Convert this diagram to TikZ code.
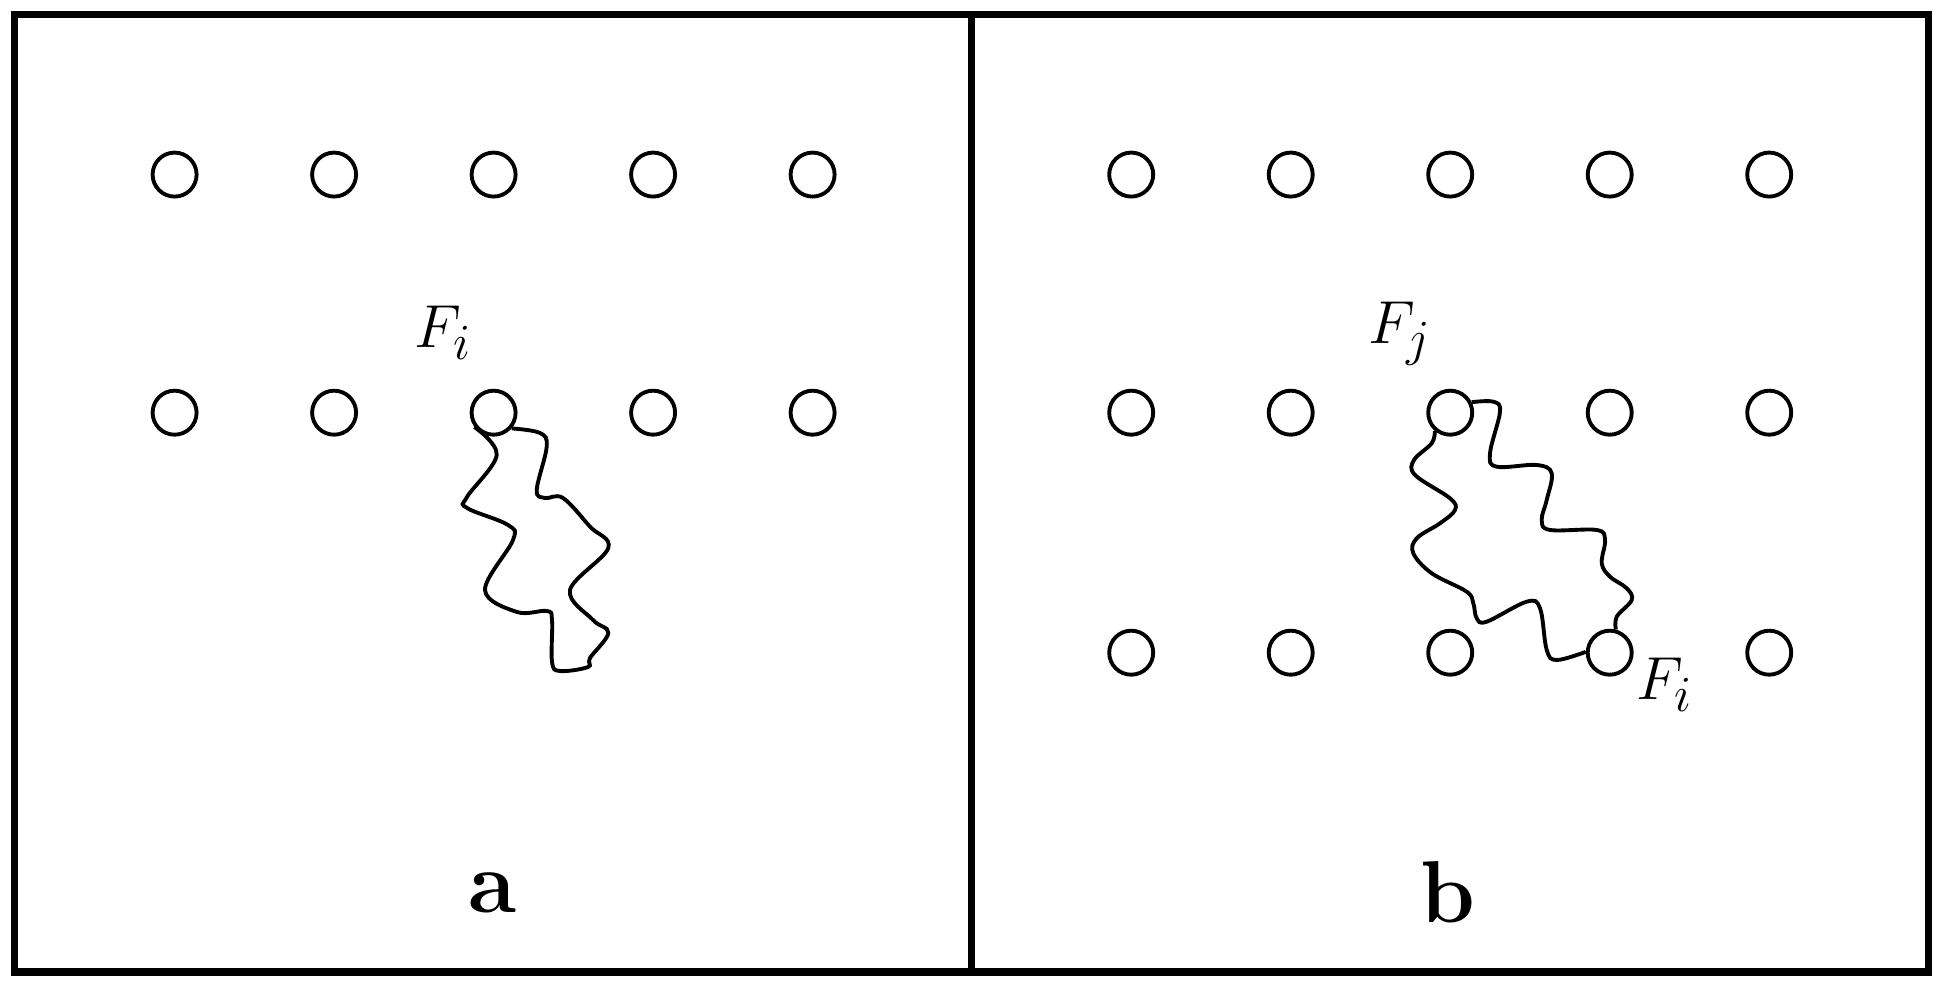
\documentclass[tikz,border=0pt]{standalone}

\begin{document}
\begin{tikzpicture}[
        site/.style = {circle, draw, line width = 1.1pt, minimum size = 0.44cm, inner sep = 0pt},
        lbl/.style = {font = \fontsize{19}{23}\selectfont},
        panel/.style = {font = \fontsize{25}{30}\selectfont\bfseries},
        walk/.style = {line width = 1.1pt}]
            \useasboundingbox (0,0) rectangle (19.41,9.85);
            \begin{scope}[line width = 2.1pt]
                \draw (0.147,0.13) rectangle (19.283,9.703);
                \draw (9.713,0.13) -- (9.713,9.703);
            \end{scope}
            % lattice sites
            \foreach \c in {1,...,5} {
                \pgfmathsetmacro{\x}{1.746 + 1.595*(\c-1)}
                \foreach \r/\y in {1/8.104, 2/5.723}
                    \node[site] (a-\r-\c) at (\x,\y) {};
                \foreach \r/\y in {1/8.104, 2/5.723, 3/3.323}
                    \node[site] (b-\r-\c) at (\x+9.566,\y) {};
            }
            % walk in panel a
            \draw[walk] plot[smooth, tension = 0.6] coordinates{(a-2-3.-41) (5.40,5.52) (5.467,5.383) (5.367,4.95)
                (5.45,4.87) (5.63,4.87) (5.90,4.583) (6.083,4.37) (5.70,3.95) (5.93,3.65) (6.083,3.52)
                (5.90,3.27) (5.88,3.18) (5.60,3.14) (5.52,3.23) (5.52,3.65) (5.467,3.74) (5.17,3.73)
                (4.85,3.95) (5.13,4.45) (5.08,4.60) (4.67,4.77) (4.67,4.88) (4.967,5.30) (a-2-3.-143)};
            % walks in panel b
            \draw[walk] plot[smooth, tension = 0.6] coordinates{(b-2-3.-130) (14.317,5.417) (14.14,5.25) (14.15,5.10)
                (14.50,4.867) (14.55,4.75) (14.40,4.617) (14.167,4.467) (14.133,4.317) (14.317,4.117)
                (14.667,3.933) (14.733,3.817) (14.767,3.667) (14.867,3.633) (15.267,3.833) (15.40,3.767)
                (15.467,3.35) (15.567,3.25) (b-3-4.178)};
            \draw[walk] plot[smooth, tension = 0.6] coordinates{(b-2-3.26) (14.933,5.833) (15.00,5.733) (14.90,5.317)
                (14.967,5.183) (15.367,5.20) (15.517,5.117) (15.467,4.85) (15.417,4.65) (15.50,4.55)
                (15.967,4.55) (16.05,4.45) (16.017,4.217) (16.10,4.083) (16.267,3.967) (16.317,3.85)
                (16.167,3.683) (b-3-4.75)};
            % labels
            \node[lbl] (Fi-a) at (4.435,6.52) {$F_i$};
            \node[lbl] (Fj-b) at (14.00,6.515) {$F_j$};
            \node[lbl] (Fi-b) at (16.65,3.00) {$F_i$};
            \node[panel] (cap-a) at (4.93,0.92) {a};
            \node[panel] (cap-b) at (14.48,0.93) {b};
        \end{tikzpicture}
\end{document}
